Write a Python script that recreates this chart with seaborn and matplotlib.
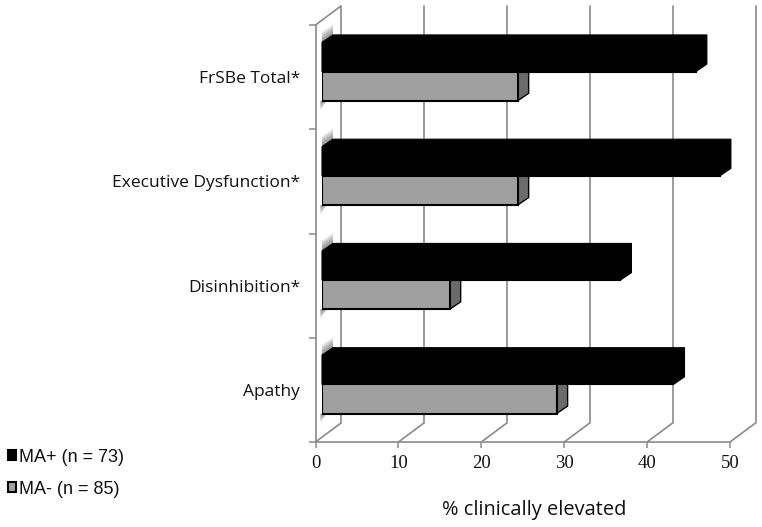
import pandas as pd
import seaborn as sns
import matplotlib.pyplot as plt
from matplotlib.patches import Polygon
from matplotlib.transforms import Affine2D

categories = ['FrSBe Total*', 'Executive Dysfunction*', 'Disinhibition*', 'Apathy']
ma_plus = [45.1, 48.0, 36.0, 42.4]
ma_minus = [23.6, 23.6, 15.4, 28.3]
series_names = ['MA+ (n = 73)', 'MA- (n = 85)']
x_ticks = [0, 10, 20, 30, 40, 50]

W, H = 762, 527
line_col = '#8a8a8a'
side_font = 'Open Sans'

df = pd.DataFrame({
    'cat': categories * 2,
    'val': ma_plus + ma_minus,
    'group': [series_names[0]] * 4 + [series_names[1]] * 4,
})

sns.set_theme(style='white')
fig = plt.figure(figsize=(W / 100, H / 100), dpi=100, facecolor='white')


def box(l, r, top, bottom):
    return [l / W, 1 - bottom / H, (r - l) / W, (bottom - top) / H]


# front plane of the floor and wall
ax = fig.add_axes(box(315.5, 730, 25, 442))
ax.set_xlim(0, 50)
ax.set_ylim(3.5, -0.5)
sns.despine(ax=ax, top=True, right=True)
for s in ['left', 'bottom']:
    ax.spines[s].set_color(line_col)
    ax.spines[s].set_linewidth(1.2)

# chart back wall sits 25.5px right, 19px up
back = ax.transData + Affine2D().translate(25.5, 19)
top_back = -0.5
for t in x_ticks:
    ax.plot([t, t], [3.5, top_back], color=line_col, lw=1.2, transform=back, clip_on=False, zorder=1)
    floor = Polygon([[t, 3.5], [t + 25.5 / 8.29, 3.5 - 19 / 104.25]], closed=False, fill=False,
                    edgecolor=line_col, lw=1.2, clip_on=False, zorder=1)
    ax.add_patch(floor)
ax.add_patch(Polygon([[0, -0.5], [25.5 / 8.29, -0.5 - 19 / 104.25]], closed=False, fill=False,
                     edgecolor=line_col, lw=1.2, clip_on=False, zorder=1))

ax.set_xticks(x_ticks)
ax.set_xticklabels(x_ticks, family='Liberation Serif', fontsize=13.5, color='#111111')
ax.set_yticks(range(4))
ax.set_yticklabels(categories, family=side_font, fontsize=12.5, color='#111111')
ax.set_yticks([-0.5, 0.5, 1.5, 2.5, 3.5], minor=True)
ax.tick_params(axis='y', which='major', length=0, pad=11)
ax.tick_params(axis='y', which='minor', length=5, width=1.1, color=line_col, left=True)
ax.tick_params(axis='x', length=4, width=1.1, color=line_col, pad=5, bottom=True)
ax.set_xlabel('% clinically elevated', family=side_font, fontsize=14.4, color='#111111')
ax.xaxis.set_label_coords((534.5 - 315.5) / 414.5, -(510 - 442) / 417, transform=ax.transAxes)
ax.xaxis.label.set_verticalalignment('center')

# bars plane, a bit inside the box
bar_ax = fig.add_axes(box(322, 736.5, 19.5, 436.5))
bar_ax.patch.set_alpha(0)
sns.barplot(data=df, y='cat', x='val', hue='group', order=categories, hue_order=series_names,
            palette=['black', '#a0a0a0'], orient='h', width=0.56, gap=0, saturation=1,
            edgecolor='black', linewidth=1.5, ax=bar_ax, zorder=3)
bar_ax.set_xlim(0, 50)
bar_ax.set_ylim(3.5, -0.5)
bar_ax.set_axis_off()

dx = 11 / 8.29
dy = 7.5 / 104.25
px_y = 1 / 104.25
px_x = 1 / 8.29

plus_bars = bar_ax.containers[0]
minus_bars = bar_ax.containers[1]
for p, m in zip(plus_bars, minus_bars):
    # grey bar side face
    xe = m.get_width()
    yt = m.get_y()
    yb = yt + m.get_height()
    bar_ax.add_patch(Polygon([[xe, yt], [xe + dx, yt - dy], [xe + dx, yb - dy], [xe, yb]],
                             facecolor='#6b6b6b', edgecolor='black', lw=1.0, clip_on=False, zorder=2))
    # black bar top and side
    xe = p.get_width()
    yt = p.get_y()
    yb = yt + p.get_height()
    bar_ax.add_patch(Polygon([[0, yt], [dx, yt - dy], [xe + dx, yt - dy], [xe + dx, yb - dy], [xe, yb], [0, yb]],
                             facecolor='black', edgecolor='black', lw=0.8, clip_on=False, zorder=4))
    # fuzzy shadows on the side wall
    for k in range(1, 8):
        h = k * 1.5 * px_y
        bar_ax.add_patch(Polygon([[0, yt], [dx, yt - dy], [dx, yt - dy - h], [0, yt - h]],
                                 facecolor='#444444', edgecolor='none', alpha=0.11, clip_on=False, zorder=1))
    ym = m.get_y() + m.get_height()
    for k in range(1, 7):
        h = k * 1.6 * px_y
        bar_ax.add_patch(Polygon([[-1.5 * px_x, ym], [5 * px_x, ym], [-1.5 * px_x, ym + h]],
                                 facecolor='#444444', edgecolor='none', alpha=0.12, clip_on=False, zorder=1))

sns.move_legend(bar_ax, 'lower left', bbox_to_anchor=(0.003, 1 - 503 / H), bbox_transform=fig.transFigure,
                frameon=False, title=None, ncol=1, fontsize=13, handlelength=0.46, handleheight=0.46,
                handletextpad=0.15, labelspacing=0.82, borderpad=0, borderaxespad=0.3)
for t in bar_ax.get_legend().get_texts():
    t.set_family('Liberation Sans')
    t.set_color('#111111')

fig.savefig('out.png', dpi=100, facecolor='white')
